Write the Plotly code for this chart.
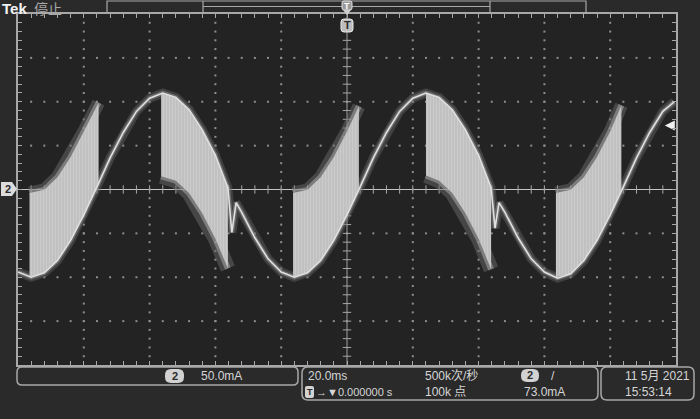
import plotly.graph_objects as go

# ---------------- data (read from the screen) ----------------
# time in ms (20 ms/div, trigger at centre), current in mA (50 mA/div)
T_TRACE = [-100, -96, -92, -88, -84, -80, -76, -72, -68, -64,
           -60, -56, -52, -48, -44, -40,
           -36.2, -35.0, -33.7, -32,
           -28, -24, -20, -16, -12, -8, -4, 0,
           4, 8, 12, 16, 20, 24, 28, 32, 36, 40,
           43.8, 45.0, 46.2, 48,
           52, 56, 60, 64, 68, 72, 76, 80,
           84, 88, 92, 96, 99.5]
I_TRACE = [-94, -100, -95, -81, -58, -29, 3, 36, 65, 89,
           104, 110, 105, 91, 68, 39,
           2, -49, -15, -26,
           -55, -79, -94, -100, -95, -81, -58, -29,
           3, 36, 65, 89, 104, 110, 105, 91, 68, 39,
           2, -44, -15, -26,
           -55, -79, -94, -101, -96, -81, -58, -29,
           3, 36, 65, 89, 100]

# switching (PWM) bands: time, upper bound, lower bound
B1_T = [-96.5, -92, -88, -84, -80, -75.5]
B1_HI = [-4, -0.4, 14, 37, 66, 99]
B1_LO = [-100, -95, -81, -58, -29, 6]

B2_T = [-56.5, -52, -48, -44, -40, -36.2]
B2_HI = [110, 105, 91, 68, 39, 2]
B2_LO = [15, 10, -4, -27, -56, -90]

B3_T = [-16.4, -12, -8, -4, 0, 3.6]
B3_HI = [-4, -0.4, 14, 37, 66, 95]
B3_LO = [-100, -95, -81, -58, -29, 0]

B4_T = [24, 28, 32, 36, 40, 43.8]
B4_HI = [110, 105, 91, 68, 39, 2]
B4_LO = [16, 10, -4, -27, -56, -91]

B5_T = [63.5, 68, 72, 76, 80, 83.4]
B5_HI = [-4, -0.4, 14, 37, 66, 96]
B5_LO = [-100, -96, -81, -58, -29, -2]

BANDS_ABOVE = [(B1_T, B1_HI, B1_LO), (B3_T, B3_HI, B3_LO), (B5_T, B5_HI, B5_LO)]
BANDS_BELOW = [(B2_T, B2_HI, B2_LO), (B4_T, B4_HI, B4_LO)]

TRIG_LEVEL_MA = 73.0
VDIV_LABEL = "50.0mA"
HDIV_LABEL = "20.0ms"
RATE_LABEL = "500k次/秒"
POINTS_LABEL = "100k 点"
TRIG_LABEL = "73.0mA"
POS_LABEL = "→▼0.000000 s"
DATE_LABEL = "11 5月 2021"
TIME_LABEL = "15:53:14"

# ---------------- layout helpers ----------------
W, H = 700, 419
PL, PR, PT, PB = 18, 676, 14, 365
FONT = "Liberation Sans, Noto Sans CJK SC, sans-serif"
TXT = "#d6d6d6"
FRAME = "#a8a8a8"


def px(x):
    return (x - PL) / (PR - PL)


def py(y):
    return (PB - y) / (PB - PT)


def rrect_path(x0, y0, x1, y1, r):
    p = lambda x, y: f"{px(x):.5f},{py(y):.5f}"
    return (f"M{p(x0 + r, y0)} L{p(x1 - r, y0)} Q{p(x1, y0)} {p(x1, y0 + r)} "
            f"L{p(x1, y1 - r)} Q{p(x1, y1)} {p(x1 - r, y1)} L{p(x0 + r, y1)} "
            f"Q{p(x0, y1)} {p(x0, y1 - r)} L{p(x0, y0 + r)} Q{p(x0, y0)} {p(x0 + r, y0)} Z")


def poly_path(pts):
    s = "M" + " L".join(f"{px(x):.5f},{py(y):.5f}" for x, y in pts)
    return s + " Z"


def txt(x, y, s, size=12, color=TXT, anchor="left", **kw):
    return dict(x=px(x), y=py(y), xref="paper", yref="paper", text=s, showarrow=False,
                xanchor=anchor, yanchor="middle",
                font=dict(size=size, color=color, family=FONT), **kw)


fig = go.Figure()

# ---------------- graticule dots ----------------
gx, gy = [], []
for k in range(-4, 5):
    if k == 0:
        continue
    t = k * 20
    for j in range(-19, 20):
        gx.append(t)
        gy.append(j * 10)
for k in (-3, -2, -1, 1, 2, 3):
    v = k * 50
    for j in range(-24, 25):
        gx.append(j * 4)
        gy.append(v)
fig.add_trace(go.Scatter(x=gx, y=gy, mode="markers", hoverinfo="skip",
                         marker=dict(symbol="square", size=2, color="#8e8e8e", line=dict(width=0))))

# centre cross ticks
cx = [j * 4 for j in range(-24, 25)]
fig.add_trace(go.Scatter(x=cx, y=[0] * len(cx), mode="markers", hoverinfo="skip",
                         marker=dict(symbol="line-ns", size=6, line=dict(width=1, color="#a8a8a8"))))
cy = [j * 10 for j in range(-19, 20)]
fig.add_trace(go.Scatter(x=[0] * len(cy), y=cy, mode="markers", hoverinfo="skip",
                         marker=dict(symbol="line-ew", size=6, line=dict(width=1, color="#a8a8a8"))))

# ---------------- waveform ----------------
# persistence glow around main trace
fig.add_trace(go.Scatter(x=T_TRACE, y=I_TRACE, mode="lines", hoverinfo="skip",
                         line=dict(color="rgba(100,100,100,0.45)", width=9)))
fig.add_trace(go.Scatter(x=T_TRACE, y=I_TRACE, mode="lines", hoverinfo="skip",
                         line=dict(color="rgba(150,150,150,0.5)", width=4.5)))

# glow on outer edges of the switching bands
for bt, hi, lo in BANDS_ABOVE:
    fig.add_trace(go.Scatter(x=bt, y=hi, mode="lines", hoverinfo="skip",
                             line=dict(color="rgba(105,105,105,0.5)", width=13)))
    fig.add_trace(go.Scatter(x=bt, y=hi, mode="lines", hoverinfo="skip",
                             line=dict(color="rgba(170,170,170,0.55)", width=6)))
for bt, hi, lo in BANDS_BELOW:
    fig.add_trace(go.Scatter(x=bt, y=lo, mode="lines", hoverinfo="skip",
                             line=dict(color="rgba(105,105,105,0.5)", width=15)))
    fig.add_trace(go.Scatter(x=bt, y=lo, mode="lines", hoverinfo="skip",
                             line=dict(color="rgba(170,170,170,0.55)", width=6)))

# filled PWM bands (vertical stripes)
for bt, hi, lo in BANDS_ABOVE + BANDS_BELOW:
    fig.add_trace(go.Scatter(x=list(bt) + list(bt)[::-1], y=list(hi) + list(lo)[::-1],
                             mode="lines", fill="toself", hoverinfo="skip",
                             line=dict(width=0, color="rgba(0,0,0,0)"),
                             fillcolor="#d4d4d4",
                             fillpattern=dict(shape="|", size=3, solidity=0.75,
                                              fgcolor="#e4e4e4", bgcolor="#b2b2b2")))

# main bright trace
fig.add_trace(go.Scatter(x=T_TRACE, y=I_TRACE, mode="lines", hoverinfo="skip",
                         line=dict(color="#e0e0e0", width=1.6)))

# trigger-level arrow on the right
fig.add_trace(go.Scatter(x=[96.6], y=[TRIG_LEVEL_MA], mode="markers", hoverinfo="skip",
                         marker=dict(symbol="arrow-left", size=10, color="#f0f0f0",
                                     line=dict(width=0))))

# ---------------- shapes ----------------
shapes = [
    dict(type="line", xref="x", yref="y", x0=-100, x1=100, y0=0, y1=0,
         line=dict(color="#c4c4c4", width=1), layer="below"),
    dict(type="line", xref="x", yref="y", x0=0, x1=0, y0=-200, y1=200,
         line=dict(color="#a0a0a0", width=1), layer="below"),
    # record view bar at the top
    dict(type="path", xref="paper", yref="paper",
         path=poly_path([(107, 1), (586, 1), (586, 13), (107, 13)]),
         line=dict(color=FRAME, width=1.2), fillcolor="rgba(0,0,0,0)"),
    dict(type="line", xref="paper", yref="paper", x0=px(203), x1=px(203), y0=py(1), y1=py(13),
         line=dict(color=FRAME, width=1.2)),
    dict(type="line", xref="paper", yref="paper", x0=px(490), x1=px(490), y0=py(1), y1=py(13),
         line=dict(color=FRAME, width=1.2)),
    dict(type="line", xref="paper", yref="paper", x0=px(203), x1=px(490), y0=py(6.5), y1=py(6.5),
         line=dict(color=FRAME, width=1.2)),
    # bottom information boxes
    dict(type="path", xref="paper", yref="paper", path=rrect_path(17, 367, 298, 385, 5),
         line=dict(color=FRAME, width=1.5), fillcolor="rgba(0,0,0,0)"),
    dict(type="path", xref="paper", yref="paper", path=rrect_path(302, 367, 598, 400, 6),
         line=dict(color=FRAME, width=1.5), fillcolor="rgba(0,0,0,0)"),
    dict(type="path", xref="paper", yref="paper", path=rrect_path(601, 367, 694, 400, 6),
         line=dict(color=FRAME, width=1.5), fillcolor="rgba(0,0,0,0)"),
    # channel badges
    dict(type="path", xref="paper", yref="paper", path=rrect_path(165, 369, 184, 383, 6),
         line=dict(width=0), fillcolor="#d2d2d2"),
    dict(type="path", xref="paper", yref="paper", path=rrect_path(521, 369, 539, 382, 6),
         line=dict(width=0), fillcolor="#d2d2d2"),
    dict(type="path", xref="paper", yref="paper", path=rrect_path(305, 386, 314, 398, 2),
         line=dict(width=0), fillcolor="#d2d2d2"),
    # channel 2 ground marker on the left
    dict(type="path", xref="paper", yref="paper",
         path=poly_path([(1, 182), (12, 182), (17, 189), (12, 196), (1, 196)]),
         line=dict(width=0), fillcolor="#dcdcdc"),
    # trigger position markers at the top
    dict(type="path", xref="paper", yref="paper", path=rrect_path(342, 1, 352, 10, 2),
         line=dict(color="#e0e0e0", width=1), fillcolor="#9a9a9a"),
    dict(type="path", xref="paper", yref="paper",
         path=poly_path([(343, 10), (351, 10), (347, 15)]),
         line=dict(width=0), fillcolor="#d0d0d0"),
    dict(type="path", xref="paper", yref="paper", path=rrect_path(341, 19, 353, 32, 3),
         line=dict(color="#e8e8e8", width=1), fillcolor="#bdbdbd"),
]

annotations = [
    txt(0, 9, "<b>Tek</b>", size=15, color="#f2f2f2"),
    txt(32, 9, "停止", size=14, color="#a8a8a8"),
    txt(347, 5.5, "<b>T</b>", size=9, color="#ffffff", anchor="center"),
    txt(347, 25.5, "<b>T</b>", size=11, color="#2a2a2a", anchor="center"),
    txt(8, 189, "<b>2</b>", size=11, color="#2a2a2a", anchor="center"),
    txt(174.5, 376, "<b>2</b>", size=11, color="#2a2a2a", anchor="center"),
    txt(199, 376, VDIV_LABEL, size=12),
    txt(306, 376, HDIV_LABEL, size=12),
    txt(309.5, 392, "<b>T</b>", size=9, color="#2a2a2a", anchor="center"),
    txt(314, 392, POS_LABEL, size=11),
    txt(423, 376, RATE_LABEL, size=12),
    txt(423, 392, POINTS_LABEL, size=12),
    txt(530, 375.5, "<b>2</b>", size=11, color="#2a2a2a", anchor="center"),
    txt(549, 376, "/", size=12),
    txt(522, 392, TRIG_LABEL, size=12),
    txt(623, 376, DATE_LABEL, size=12),
    txt(623, 392, TIME_LABEL, size=12),
]

axis_common = dict(showgrid=False, zeroline=False, showline=True, mirror="ticks",
                   linecolor=FRAME, linewidth=2, ticks="inside", ticklen=4, tickwidth=1,
                   tickcolor=FRAME, showticklabels=False, fixedrange=True, tick0=0)

fig.update_layout(
    width=W, height=H, autosize=False,
    margin=dict(l=PL, r=W - PR, t=PT, b=H - PB, pad=0),
    paper_bgcolor="#2a2a2a", plot_bgcolor="#232323",
    showlegend=False,
    xaxis=dict(range=[-100, 100], dtick=4, **axis_common),
    yaxis=dict(range=[-200, 200], dtick=10, **axis_common),
    shapes=shapes,
    annotations=annotations,
)

fig.write_html("out.html", config={"displayModeBar": False},
               post_script="document.body.style.margin='0px';"
                           "document.body.style.background='#2a2a2a';")
